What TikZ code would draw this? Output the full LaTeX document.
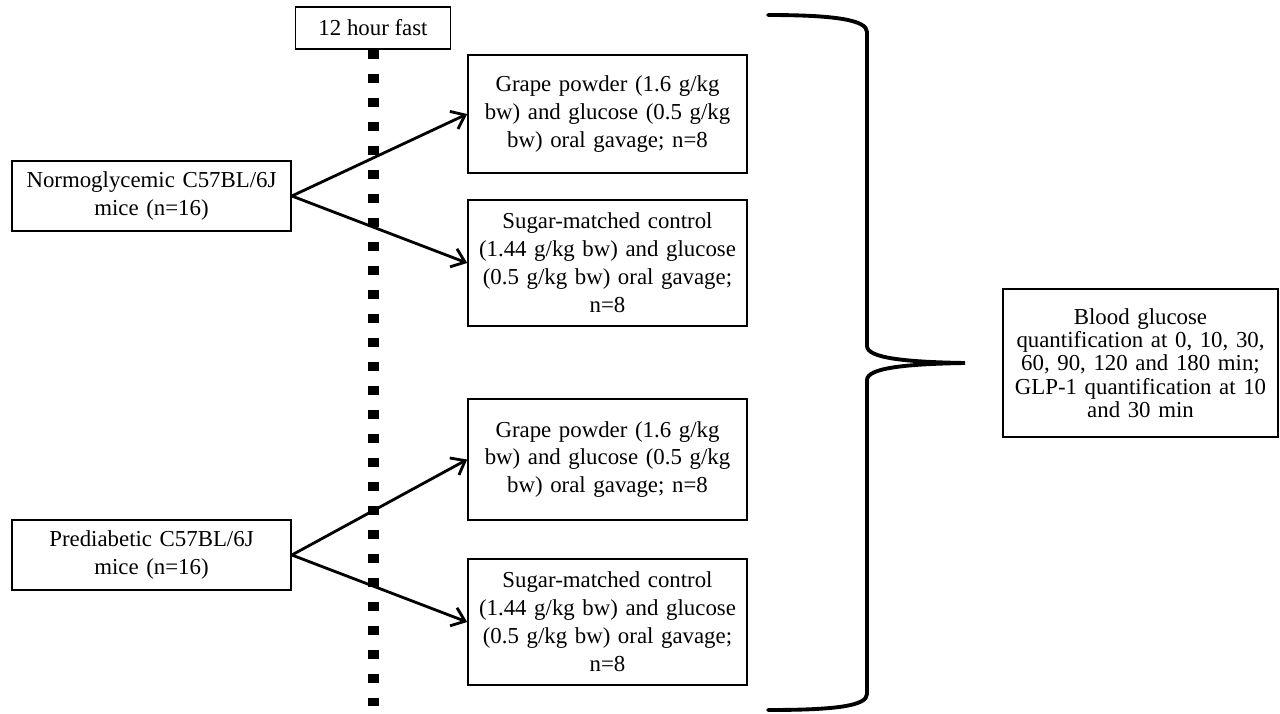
\documentclass[tikz,border=0pt]{standalone}
\usepackage{fontspec}
\setmainfont{Liberation Serif}
\usetikzlibrary{arrows.meta, positioning}

\begin{document}
\begin{tikzpicture}[
  x=0.02cm, y=-0.02cm,
  every node/.style = {font=\fontsize{13}{15.9}\selectfont},
  fastbox/.style  = {rectangle, draw=black, line width=1pt,
                     minimum width=3.1cm, minimum height=0.84cm,
                     inner sep=0pt},
  micebox/.style  = {rectangle, draw=black, line width=1pt,
                     text width=5.38cm, inner xsep=0.1cm,
                     minimum height=1.4cm, align=center},
  armbox/.style   = {rectangle, draw=black, line width=1pt,
                     text width=5.38cm, inner xsep=0.1cm,
                     minimum height=#1, align=center},
  outbox/.style   = {rectangle, draw=black, line width=1pt,
                     text width=5.3cm, inner xsep=0.1cm,
                     minimum height=2.96cm, align=center,
                     font=\fontsize{13}{13.2}\selectfont},
  arr/.style      = {-{Straight Barb[length=7pt, width=11pt]}, line width=1.6pt},
  fastline/.style = {line width=0.22cm, dash pattern=on 0.18cm off 0.3cm},
  brace/.style    = {line width=2.2pt, line cap=round},
]

\useasboundingbox (0,0) rectangle (1280,713);

%% ══ FASTING LINE ═════════════════════════════════════════════════════════
\node[fastbox] at (373, 28) (fast) {12 hour fast};
\coordinate (fastend) at (373, 706);
\draw[fastline] (fast.south) -- (fastend);

%% ══ MOUSE GROUPS ═════════════════════════════════════════════════════════
\node[micebox] at (151.5, 196) (normo) {
  Normoglycemic C57BL/6J\\
  mice (n=16)
};

\node[micebox] at (151.5, 555) (prediab) {
  Prediabetic C57BL/6J\\
  mice (n=16)
};

%% ══ TREATMENT ARMS ═══════════════════════════════════════════════════════
\node[armbox=2.36cm] at (607.5, 114) (grapeA) {
  Grape powder (1.6 g/kg\\
  bw) and glucose (0.5 g/kg\\
  bw) oral gavage; n=8
};

\node[armbox=2.52cm] at (607.5, 263) (sugarA) {
  Sugar-matched control\\
  (1.44 g/kg bw) and glucose\\
  (0.5 g/kg bw) oral gavage;\\
  n=8
};

\node[armbox=2.42cm] at (607.5, 459.5) (grapeB) {
  Grape powder (1.6 g/kg\\
  bw) and glucose (0.5 g/kg\\
  bw) oral gavage; n=8
};

\node[armbox=2.52cm] at (607.5, 622) (sugarB) {
  Sugar-matched control\\
  (1.44 g/kg bw) and glucose\\
  (0.5 g/kg bw) oral gavage;\\
  n=8
};

%% ── group → arm arrows ───────────────────────────────────────────────────
\draw[arr] (normo.east)   -- (grapeA.west);
\draw[arr] (normo.east)   -- (sugarA.west);
\draw[arr] (prediab.east) -- (grapeB.west);
\draw[arr] (prediab.east) -- (sugarB.west);

%% ══ BRACE + OUTCOME ══════════════════════════════════════════════════════
\draw[brace] (768, 15) .. controls (835, 15) and (867, 20) .. (867, 32)
  -- (867, 346) .. controls (867, 358) and (905, 362) .. (965, 363)
  .. controls (905, 364) and (867, 368) .. (867, 380)
  -- (867, 694) .. controls (867, 706) and (835, 710) .. (768, 710);

\node[outbox] at (1140.5, 363) (blood) {
  Blood glucose\\
  quantification at 0, 10, 30,\\
  60, 90, 120 and 180 min;\\
  GLP-1 quantification at 10\\
  and 30 min
};

\end{tikzpicture}
\end{document}
